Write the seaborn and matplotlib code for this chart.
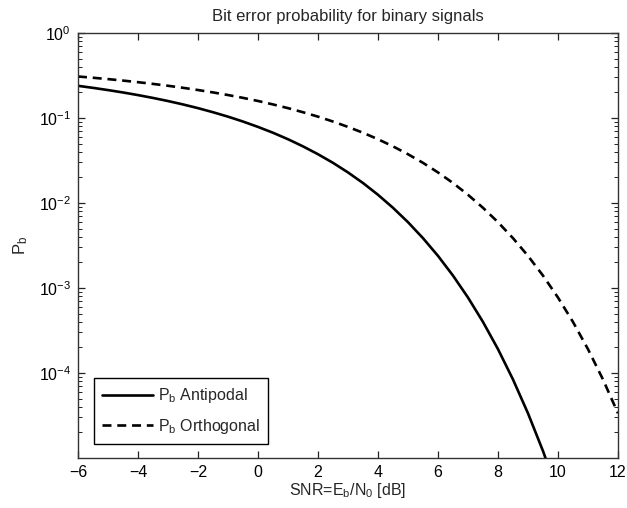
import numpy as np
import pandas as pd
import matplotlib
matplotlib.use("Agg")
import matplotlib.pyplot as plt
from matplotlib.ticker import LogLocator, NullFormatter
import seaborn as sns

snr_db = [-6, -5.5, -5, -4.5, -4, -3.5, -3, -2.5, -2, -1.5, -1, -0.5, 0,
          0.5, 1, 1.5, 2, 2.5, 3, 3.5, 4, 4.5, 5, 5.5, 6, 6.5, 7, 7.5,
          8, 8.5, 9, 9.5, 10, 10.5, 11, 11.5, 12]

pb_antipodal = [0.2392, 0.2264, 0.2132, 0.1998, 0.1861, 0.1723, 0.1584, 0.1445,
                0.1307, 0.1170, 0.1038, 0.0909, 0.0786, 0.0671, 0.0563, 0.0464,
                0.0375, 0.0297, 0.0229, 0.0172, 0.0125, 0.00879, 0.00595, 0.00386,
                0.00239, 0.00140, 7.73e-4, 3.99e-4, 1.91e-4, 8.40e-5, 3.36e-5,
                1.21e-5, 3.87e-6, 1.1e-6, 2.6e-7, 5.0e-8, 7.7e-9]

pb_orthogonal = [0.3081, 0.2977, 0.2870, 0.2757, 0.2640, 0.2520, 0.2395, 0.2267,
                 0.2135, 0.2001, 0.1864, 0.1726, 0.1587, 0.1445, 0.1307, 0.1170,
                 0.1038, 0.0909, 0.0786, 0.0671, 0.0563, 0.0464, 0.0375, 0.0297,
                 0.0229, 0.0172, 0.0125, 0.00879, 0.00595, 0.00386, 0.00239,
                 0.00140, 7.73e-4, 3.99e-4, 1.91e-4, 8.40e-5, 3.36e-5]

sns.set_style("white")
plt.rcParams["font.family"] = ["Liberation Sans", "DejaVu Sans"]
plt.rcParams["mathtext.fontset"] = "custom"
plt.rcParams["mathtext.rm"] = "Liberation Sans"
plt.rcParams["xtick.bottom"] = True
plt.rcParams["ytick.left"] = True

df = pd.DataFrame({"snr": snr_db, "anti": pb_antipodal, "orth": pb_orthogonal})

fig = plt.figure(figsize=(6.27, 5.08), dpi=100)
ax = fig.add_axes([0.1244, 0.0984, 0.8612, 0.8366])

sns.lineplot(data=df, x="snr", y="anti", ax=ax, color="black", lw=1.9,
             label=r"$\mathregular{P_b}$ Antipodal")
sns.lineplot(data=df, x="snr", y="orth", ax=ax, color="black", lw=1.9,
             linestyle=(0, (3.4, 2.2)), label=r"$\mathregular{P_b}$ Orthogonal")

ax.set_yscale("log")
ax.set_xlim(-6, 12)
ax.set_ylim(1e-5, 1)
ax.set_xticks(range(-6, 13, 2))
ax.set_yticks([1, 1e-1, 1e-2, 1e-3, 1e-4])
ax.yaxis.set_minor_locator(LogLocator(base=10, subs=np.arange(2, 10)))
ax.yaxis.set_minor_formatter(NullFormatter())
ax.tick_params(which="both", direction="in", bottom=True, left=True,
               top=True, right=True, labelsize=11.5, colors="#222222",
               labelcolor="black")
ax.tick_params(which="major", length=5, width=0.9, pad=5)
ax.tick_params(which="minor", length=3, width=0.7)
for s in ax.spines.values():
    s.set_color("#333333")
    s.set_linewidth(1.0)

ax.set_title("Bit error probability for binary signals", fontsize=12, pad=9)
ax.set_xlabel(r"SNR=E$\mathregular{_b}$/N$\mathregular{_0}$ [dB]", fontsize=11.5, labelpad=1)
ax.set_ylabel(r"$\mathregular{P_b}$", fontsize=12, labelpad=6)

leg = ax.legend(loc="lower left", fontsize=11.5, fancybox=False, framealpha=1,
                edgecolor="black", borderpad=0.5, handlelength=3.2,
                handletextpad=0.3, labelspacing=0.7,
                bbox_to_anchor=(0.015, 0.015))
leg.get_frame().set_linewidth(1.0)

fig.savefig("out.png", dpi=100)
